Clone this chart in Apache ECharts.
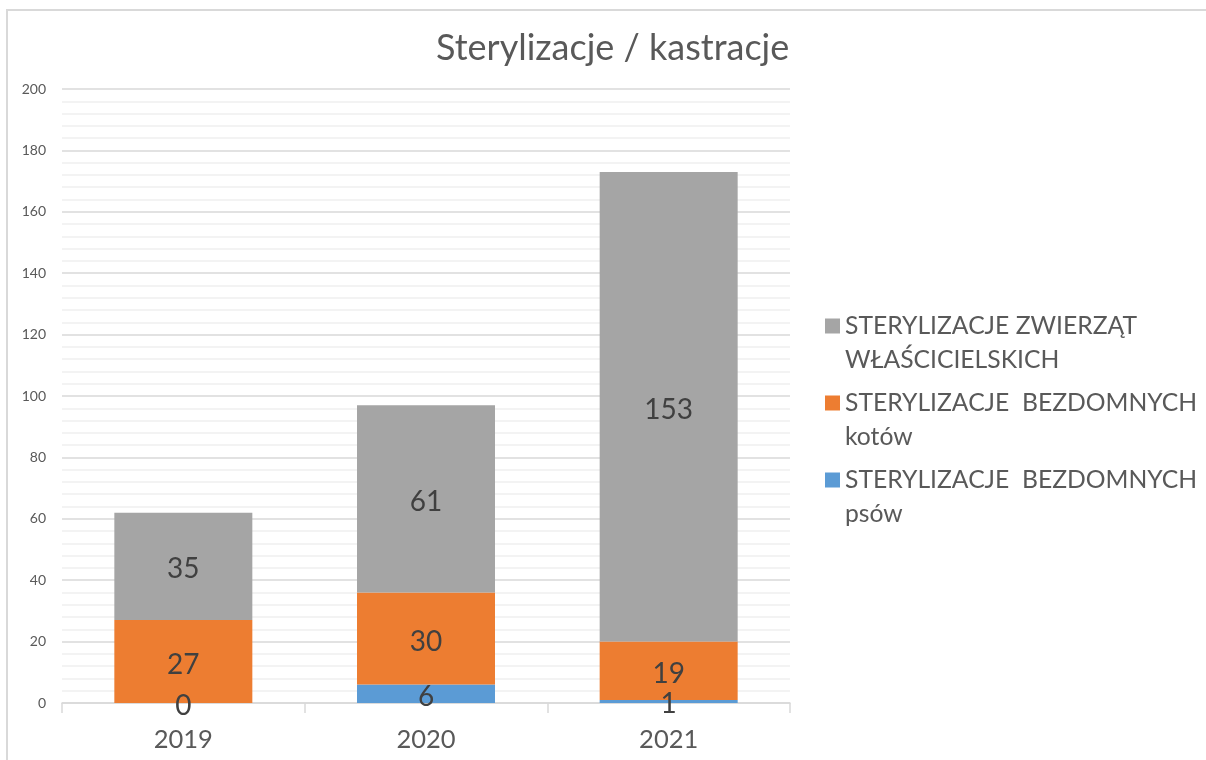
<!DOCTYPE html>
<html>
<head>
<meta charset="utf-8">
<script src="https://cdn.jsdelivr.net/npm/echarts@6/dist/echarts.min.js"></script>
<style>
  html, body { margin: 0; padding: 0; background: #fff; }
  #chart { width: 1206px; height: 760px; }
</style>
</head>
<body>
<div id="chart"></div>
<script>
// dane z wykresu
var years = ['2019', '2020', '2021']
var psow = [0, 6, 1]
var kotow = [27, 30, 19]
var wlasciciele = [35, 61, 153]
var yTicks = [0, 20, 40, 60, 80, 100, 120, 140, 160, 180, 200]

var nameWlasc = 'STERYLIZACJE ZWIERZĄT WŁAŚCICIELSKICH'
var nameKotow = 'STERYLIZACJE  BEZDOMNYCH kotów'
var namePsow = 'STERYLIZACJE  BEZDOMNYCH psów'
// podział nazw na dwie linie jak w legendzie oryginału
var legendLines = {}
legendLines[nameWlasc] = ['STERYLIZACJE ZWIERZĄT', 'WŁAŚCICIELSKICH']
legendLines[nameKotow] = ['STERYLIZACJE  BEZDOMNYCH', 'kotów']
legendLines[namePsow] = ['STERYLIZACJE  BEZDOMNYCH', 'psów']

var font = 'Lato, "Open Sans", sans-serif'
var chart = echarts.init(document.getElementById('chart'))

var label = {
    show: true,
    position: 'inside',
    offset: [0, 3],
    color: '#404040',
    fontSize: 28,
    fontFamily: font
}

chart.setOption({
    animation: false,
    textStyle: { fontFamily: font },
    title: {
        text: 'Sterylizacje / kastracje',
        left: 431,
        top: 25,
        textStyle: { fontSize: 36, fontWeight: 'normal', color: '#595959', fontFamily: font }
    },
    graphic: [{
        type: 'rect',
        shape: { x: 7, y: 10, width: 1210, height: 760 },
        style: { fill: 'none', stroke: '#d9d9d9', lineWidth: 2 },
        silent: true
    }],
    legend: {
        orient: 'vertical',
        left: 820,
        top: 270,
        itemWidth: 15,
        itemHeight: 15,
        itemGap: -25,
        icon: 'rect',
        data: [nameWlasc, nameKotow, namePsow],
        formatter: function (name) {
            // pusta linia na górze, żeby kwadrat stał przy pierwszej linii
            return '\n' + legendLines[name].join('\n')
        },
        textStyle: { fontSize: 24.7, lineHeight: 34, color: '#595959', fontFamily: font }
    },
    grid: { left: 62, right: 416, top: 89, bottom: 57 },
    xAxis: {
        type: 'category',
        data: years,
        axisLine: { lineStyle: { color: '#d9d9d9', width: 1.5 } },
        axisTick: { show: true, alignWithLabel: false, length: 10, lineStyle: { color: '#d9d9d9', width: 1.5 } },
        axisLabel: { fontSize: 25.5, color: '#595959', margin: 24, fontFamily: font }
    },
    yAxis: {
        type: 'value',
        min: yTicks[0],
        max: yTicks[yTicks.length - 1],
        interval: 20,
        axisLine: { show: false },
        axisTick: { show: false },
        axisLabel: { fontSize: 14, color: '#595959', margin: 16, fontFamily: font },
        splitLine: { lineStyle: { color: '#d9d9d9', width: 1.5 } },
        minorTick: { show: false, splitNumber: 5 },
        minorSplitLine: { show: true, lineStyle: { color: '#efefef', width: 1.5 } }
    },
    series: [{
        name: namePsow,
        type: 'bar',
        stack: 'all',
        barWidth: 138,
        itemStyle: { color: '#5b9bd5' },
        label: label,
        data: psow
    }, {
        name: nameKotow,
        type: 'bar',
        stack: 'all',
        itemStyle: { color: '#ed7d31' },
        label: label,
        data: kotow
    }, {
        name: nameWlasc,
        type: 'bar',
        stack: 'all',
        itemStyle: { color: '#a5a5a5' },
        label: label,
        data: wlasciciele
    }]
})
</script>
</body>
</html>
